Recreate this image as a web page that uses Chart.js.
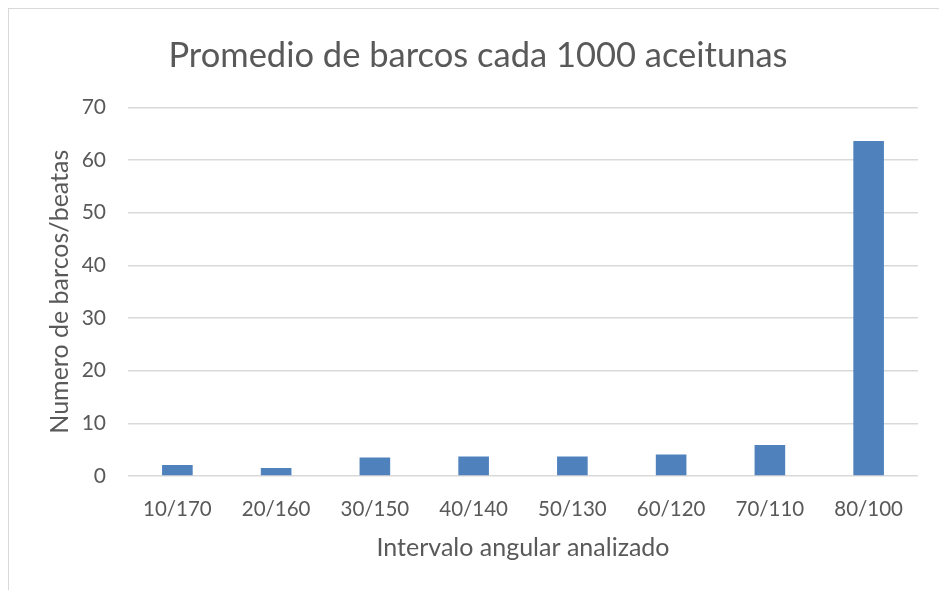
<!DOCTYPE html>
<html lang="es">
<head>
<meta charset="utf-8">
<script src="https://cdn.jsdelivr.net/npm/chart.js@4/dist/chart.umd.min.js"></script>
<style>
  html, body { margin: 0; padding: 0; background: #fff; }
  #wrap { position: relative; width: 939px; height: 590px; overflow: hidden; }
  #frame { position: absolute; left: 8px; top: 8px; width: 960px; height: 620px; border: 1px solid #d9d9d9; box-sizing: border-box; }
  canvas { position: absolute; left: 0; top: 0; }
</style>
</head>
<body>
<div id="wrap">
  <div id="frame"></div>
  <canvas id="chart" width="939" height="590"></canvas>
</div>
<script>
// Promedio de barcos por cada 1000 aceitunas, por intervalo angular
const CATEGORIAS = ['10/170', '20/160', '30/150', '40/140', '50/130', '60/120', '70/110', '80/100'];
const PROMEDIOS = [2.1, 1.5, 3.5, 3.7, 3.7, 4.1, 5.9, 63.6];
const Y_TICKS = [0, 10, 20, 30, 40, 50, 60, 70];

const BAR_COLOR = '#4f81bd';
const GRID_COLOR = '#d9d9d9';
const INK = '#595959';
const FONT = 'Lato, "Open Sans", sans-serif';

new Chart(document.getElementById('chart'), {
  type: 'bar',
  data: {
    labels: CATEGORIAS,
    datasets: [{
      label: 'Promedio',
      data: PROMEDIOS,
      backgroundColor: BAR_COLOR,
      borderWidth: 0,
      categoryPercentage: 1,
      barPercentage: 0.31,
    }],
  },
  options: {
    responsive: false,
    animation: false,
    // left padding desplaza el título para centrarlo como en Excel
    layout: { padding: { left: 38, right: 21, top: 0, bottom: 0 } },
    plugins: {
      legend: { display: false },
      tooltip: { enabled: false },
      title: {
        display: true,
        text: 'Promedio de barcos cada 1000 aceitunas',
        color: INK,
        font: { family: FONT, size: 34.5, weight: 'normal' },
        padding: { top: 35, bottom: 31 },
      },
    },
    scales: {
      x: {
        grid: { display: false },
        border: { display: false },
        ticks: { color: INK, font: { family: FONT, size: 20.5 }, padding: 13, maxRotation: 0 },
        title: {
          display: true,
          text: 'Intervalo angular analizado',
          color: INK,
          font: { family: FONT, size: 25 },
          padding: { top: 29, bottom: 27 },
        },
        afterFit: (scale) => { scale.height = 114; },
      },
      y: {
        min: 0,
        max: 70,
        afterBuildTicks: (scale) => { scale.ticks = Y_TICKS.map((v) => ({ value: v })); },
        grid: { color: GRID_COLOR, lineWidth: 1.5, drawTicks: false },
        border: { display: false },
        ticks: { color: INK, font: { family: FONT, size: 21 }, padding: 22 },
        title: {
          display: true,
          text: 'Numero de barcos/beatas',
          color: INK,
          font: { family: FONT, size: 25 },
          padding: { top: 7, bottom: 0 },
        },
        afterFit: (scale) => { scale.width = 90; },
      },
    },
  },
});
</script>
</body>
</html>
